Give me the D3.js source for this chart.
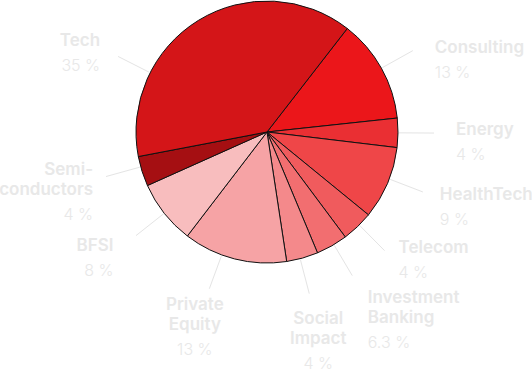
<!DOCTYPE html>
<html>
<head>
<meta charset="utf-8">
<script src="https://cdn.jsdelivr.net/npm/d3@7"></script>
<style>
  html, body { margin: 0; padding: 0; background: #fff; }
  svg { display: block; }
</style>
</head>
<body>
<svg id="chart" width="532" height="374"></svg>
<script>
// sectors, clockwise from the Consulting slice
const sectors = ['Consulting', 'Energy', 'HealthTech', 'Telecom', 'Investment Banking',
  'Social Impact', 'Private Equity', 'BFSI', 'Semiconductors', 'Tech']

// label lines as they are written in the picture
const labelLines = [['Consulting'], ['Energy'], ['HealthTech'], ['Telecom'], ['Investment', 'Banking'],
  ['Social', 'Impact'], ['Private', 'Equity'], ['BFSI'], ['Semi-', 'conductors'], ['Tech']]

// share of the circle each slice takes
const shares = [12.8, 3.6, 9.0, 3.9, 3.9, 3.9, 12.8, 7.9, 3.7, 38.5]

// percent text shown under each label
const percentLabels = ['13 %', '4 %', '9 %', '4 %', '6.3 %', '4 %', '13 %', '8 %', '4 %', '35 %']

const sliceColors = ['#eb161a', '#ea2f33', '#ef4648', '#f05b5d', '#f26e70',
  '#f4898b', '#f6a3a5', '#f8bdbe', '#a50f12', '#d41518']

// label placement around the pie: angle nudge (deg), text anchor, offset from line end
const labelLayout = [
  { shift: 0, anchor: 'start', dx: 22, dy: 2 },
  { shift: 0, anchor: 'start', dx: 22, dy: 2 },
  { shift: -2, anchor: 'start', dx: 17, dy: 8 },
  { shift: -1, anchor: 'start', dx: 14, dy: 2 },
  { shift: -1, anchor: 'start', dx: 15.5, dy: 27 },
  { shift: 1, anchor: 'middle', dx: 9, dy: 30 },
  { shift: 5.8, anchor: 'middle', dx: -14.5, dy: 21.6 },
  { shift: 0, anchor: 'end', dx: -22.6, dy: 15 },
  { shift: 2, anchor: 'end', dx: -13, dy: -2 },
  { shift: -31.6, anchor: 'end', dx: -18, dy: -10.5 }
]

const svg = d3.select('#chart')
const cx = 267, cy = 132, radius = 131
const textColor = '#e8e8e8'
const lineColor = '#e4e4e4'

const startAngle = 37.8 * Math.PI / 180

const pie = d3.pie()
  .sort(null)
  .value(d => d)
  .startAngle(startAngle)
  .endAngle(startAngle + 2 * Math.PI)

const arcs = pie(shares)

const arc = d3.arc().innerRadius(0).outerRadius(radius)

const g = svg.append('g').attr('transform', `translate(${cx},${cy})`)

// slices
g.selectAll('path.slice')
  .data(arcs)
  .enter()
  .append('path')
  .attr('class', 'slice')
  .attr('d', arc)
  .style('fill', (d, i) => sliceColors[i])
  .style('stroke', '#111')
  .style('stroke-width', 1)
  .style('stroke-linejoin', 'round')

// point on a circle of radius r at angle a (d3 convention, clockwise from top)
const polar = (a, r) => [Math.sin(a) * r, -Math.cos(a) * r]

const labelAngle = (d, i) => (d.startAngle + d.endAngle) / 2 + labelLayout[i].shift * Math.PI / 180

// leader lines
g.selectAll('line.leader')
  .data(arcs)
  .enter()
  .append('line')
  .attr('class', 'leader')
  .attr('x1', (d, i) => polar(labelAngle(d, i), radius + 1)[0])
  .attr('y1', (d, i) => polar(labelAngle(d, i), radius + 1)[1])
  .attr('x2', (d, i) => polar(labelAngle(d, i), radius + 36)[0])
  .attr('y2', (d, i) => polar(labelAngle(d, i), radius + 36)[1])
  .style('stroke', lineColor)
  .style('stroke-width', 1)

// labels
const labels = g.selectAll('g.label')
  .data(arcs)
  .enter()
  .append('g')
  .attr('class', 'label')
  .attr('transform', (d, i) => {
    const p = polar(labelAngle(d, i), radius + 36)
    return `translate(${p[0] + labelLayout[i].dx},${p[1] + labelLayout[i].dy})`
  })
  .style('text-anchor', (d, i) => labelLayout[i].anchor)

labels.each(function (d, i) {
  const lbl = d3.select(this)
  labelLines[i].forEach((line, k) => {
    lbl.append('text')
      .attr('y', k * 20)
      .style('font-family', 'Inter, "Noto Sans", sans-serif')
      .style('font-weight', 600)
      .style('font-size', '17px')
      .style('fill', textColor)
      .text(line)
  })
  lbl.append('text')
    .attr('y', (labelLines[i].length - 1) * 20 + 25)
    .style('font-family', 'Inter, "Noto Sans", sans-serif')
    .style('font-weight', 300)
    .style('font-size', '16px')
    .style('fill', textColor)
    .text(percentLabels[i])
})
</script>
</body>
</html>
